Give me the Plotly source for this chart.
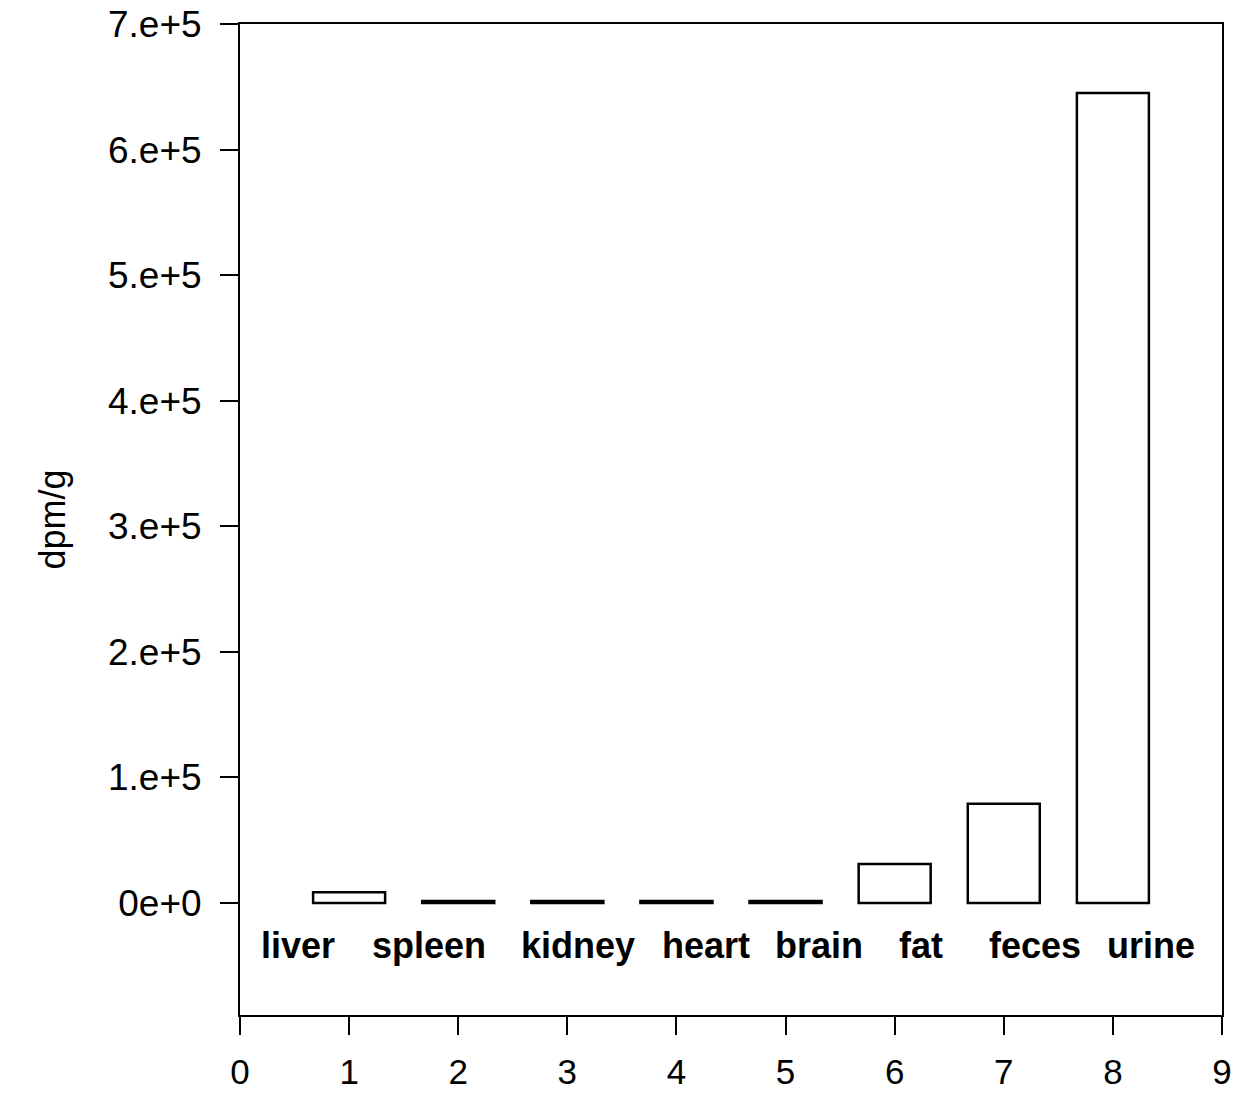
import plotly.graph_objects as go

# data
organs = ["liver", "spleen", "kidney", "heart", "brain", "fat", "feces", "urine"]
positions = [1, 2, 3, 4, 5, 6, 7, 8]
dpm_per_g = [8500, 1500, 1500, 1500, 1500, 31000, 79000, 645000]

y_tickvals = [0, 100000, 200000, 300000, 400000, 500000, 600000, 700000]
y_ticktext = ["0e+0", "1.e+5", "2.e+5", "3.e+5", "4.e+5", "5.e+5", "6.e+5", "7.e+5"]
x_tickvals = [0, 1, 2, 3, 4, 5, 6, 7, 8, 9]

# label placement (layout only)
label_x = [0.53, 1.73, 3.1, 4.27, 5.31, 6.24, 7.29, 8.35]
label_y = -34000

FONT = "Liberation Sans, Arial, sans-serif"

fig = go.Figure()
fig.add_trace(go.Bar(
    x=positions, y=dpm_per_g, width=0.66,
    marker=dict(color="white", line=dict(color="black", width=2.5)),
    showlegend=False, hoverinfo="skip",
))

for name, lx in zip(organs, label_x):
    fig.add_annotation(x=lx, y=label_y, xref="x", yref="y", text=f"<b>{name}</b>",
                       showarrow=False, font=dict(family=FONT, size=36, color="black"))

fig.update_layout(
    width=1233, height=1096,
    margin=dict(l=240, r=11, t=24, b=81),
    paper_bgcolor="white", plot_bgcolor="white",
    font=dict(family=FONT, size=36, color="black"),
)
fig.update_xaxes(
    range=[0, 9], tickvals=x_tickvals, ticks="outside", ticklen=18, tickwidth=2,
    tickcolor="black", showline=True, linecolor="black", linewidth=2, mirror=True,
    showgrid=False, zeroline=False, ticklabelstandoff=7, automargin=False,
    ticklabeloverflow="allow",
    tickfont=dict(family=FONT, size=35, color="black"),
)
fig.update_yaxes(
    range=[-89300, 700000], tickvals=y_tickvals, ticktext=y_ticktext,
    ticks="outside", ticklen=18, tickwidth=2, tickcolor="black",
    showline=True, linecolor="black", linewidth=2, mirror=True,
    showgrid=False, zeroline=False, ticklabelstandoff=11, automargin=False,
    ticklabeloverflow="allow",
    tickfont=dict(family=FONT, size=37, color="black"),
    title=dict(text="dpm/g", standoff=31, font=dict(family=FONT, size=36, color="black")),
)

fig.write_html("out.html", config={"displayModeBar": False},
               post_script="document.body.style.margin='0';")
